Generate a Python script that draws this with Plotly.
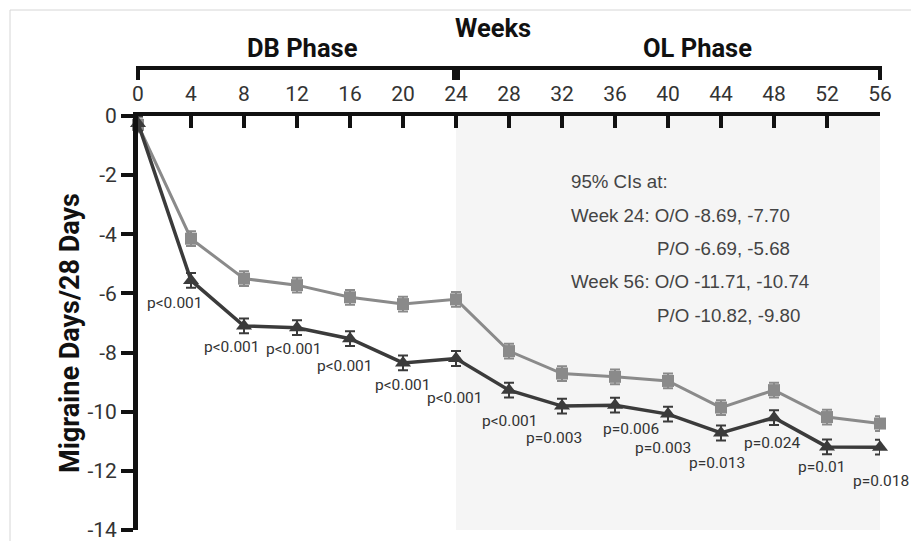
import plotly.graph_objects as go

# Weeks of assessment
weeks = [0, 4, 8, 12, 16, 20, 24, 28, 32, 36, 40, 44, 48, 52, 56]

# Mean change from baseline in migraine days / 28 days
placebo_open = [-0.3, -4.15, -5.5, -5.72, -6.13, -6.36, -6.2, -7.95, -8.71, -8.82,
                -8.96, -9.86, -9.27, -10.18, -10.4]
active_open = [-0.25, -5.56, -7.1, -7.16, -7.53, -8.35, -8.2, -9.27, -9.81, -9.78,
               -10.08, -10.72, -10.2, -11.19, -11.2]
placebo_se = [0.25] * len(weeks)
active_se = [0.25] * len(weeks)

# p-values at each post-baseline visit
p_weeks = [4, 8, 12, 16, 20, 24, 28, 32, 36, 40, 44, 48, 52, 56]
p_labels = ["p<0.001", "p<0.001", "p<0.001", "p<0.001", "p<0.001", "p<0.001",
            "p<0.001", "p=0.003", "p=0.006", "p=0.003", "p=0.013", "p=0.024",
            "p=0.01", "p=0.018"]
# pixel offsets of each p-value label from its marker
p_offsets = [(-16, -23), (-12, -21), (-3, -21), (-5, -27), (0, -22), (-1, -40),
             (1, -31), (-8, -32), (16, -24), (-5, -34), (-4, -30), (-2, -25),
             (-6, -20), (1, -34)]

ci_header = "95% CIs at:"
ci_rows = ["Week 24: O/O -8.69, -7.70", "P/O -6.69, -5.68",
           "Week 56: O/O -11.71, -10.74", "P/O -10.82, -9.80"]

y_ticks = [0, -2, -4, -6, -8, -10, -12, -14]
y_tick_labels = ["0", "-2", "-4", "-6", "-8", "-10", "-12", "-14"]

NARROW = "Roboto, sans-serif"
REGULAR = "Liberation Sans, Arial, sans-serif"
DARK = "#3b3b3b"
LIGHT = "#8a8a8a"

fig = go.Figure()

fig.add_trace(go.Scatter(
    x=weeks, y=placebo_open, mode="lines+markers",
    line=dict(color=LIGHT, width=3),
    marker=dict(symbol="square", size=12, color=LIGHT),
    error_y=dict(type="data", array=placebo_se, color=LIGHT, thickness=2, width=5),
    cliponaxis=False, showlegend=False,
))
fig.add_trace(go.Scatter(
    x=weeks, y=active_open, mode="lines+markers",
    line=dict(color=DARK, width=3.5),
    marker=dict(symbol="triangle-up", size=14, color=DARK),
    error_y=dict(type="data", array=active_se, color=DARK, thickness=2, width=5),
    cliponaxis=False, showlegend=False,
))

# p-value labels below the active arm
y_at = dict(zip(weeks, active_open))
for wk, txt, (dx, dy) in zip(p_weeks, p_labels, p_offsets):
    fig.add_annotation(x=wk, y=y_at[wk], text=txt, showarrow=False,
                       xshift=dx, yshift=dy,
                       font=dict(family=NARROW, size=15.5, color="#333333"))

# confidence interval text block
ci_lines = [(ci_header, 0), (ci_rows[0], 0), (ci_rows[1], 86),
            (ci_rows[2], 0), (ci_rows[3], 86)]
for i, (txt, indent) in enumerate(ci_lines):
    fig.add_annotation(x=32.5, y=-2.22 - i * 1.13, text=txt, showarrow=False,
                       xanchor="left", xshift=indent,
                       font=dict(family=REGULAR, size=18.7, color="#444444"))

# open-label shading
fig.add_shape(type="rect", xref="x", yref="y", x0=24, x1=56, y0=-14, y1=0,
              fillcolor="#f5f5f5", line=dict(width=0), layer="below")

# phase bracket above the week axis
bracket = dict(color="#111111", width=4)
fig.add_shape(type="line", xref="paper", yref="paper", ysizemode="pixel", yanchor=1,
              x0=0, x1=1, y0=48, y1=48, line=bracket)
for xp, w in [(0, 4), (1, 4), (24 / 56, 8)]:
    fig.add_shape(type="line", xref="paper", yref="paper", ysizemode="pixel",
                  yanchor=1, x0=xp, x1=xp, y0=50, y1=36,
                  line=dict(color="#111111", width=w))

# outer frame
fig.add_shape(type="rect", xref="paper", yref="paper", xsizemode="pixel",
              ysizemode="pixel", xanchor=0, yanchor=1, x0=-128, x1=900,
              y0=106, y1=-600, line=dict(color="#d6d6d6", width=1),
              fillcolor="rgba(0,0,0,0)")

head_font = dict(family=NARROW, size=25.5, color="#111111")
for label, xp, dy in [("DB Phase", 12.4 / 56, 68), ("OL Phase", 42.2 / 56, 68),
                      ("Weeks", 26.8 / 56, 88)]:
    fig.add_annotation(xref="paper", yref="paper", x=xp, y=1, yshift=dy,
                       xanchor="center", yanchor="middle",
                       text="<b>" + label + "</b>", showarrow=False, font=head_font)
fig.add_annotation(xref="paper", yref="paper", x=0, y=0.5, xshift=-68, yshift=-10,
                   xanchor="center", yanchor="middle",
                   text="<b>Migraine Days/28 Days</b>", textangle=-90,
                   showarrow=False, font=dict(family=NARROW, size=27, color="#111111"))

fig.update_layout(
    width=911, height=541,
    margin=dict(l=138, r=31, t=116, b=11),
    paper_bgcolor="white", plot_bgcolor="white",
    xaxis=dict(range=[0, 56], side="top", tickmode="array", tickvals=weeks,
               ticks="inside", ticklen=12, tickwidth=4, tickcolor="#111111",
               showline=True, linewidth=4, linecolor="#111111", automargin=False,
               showgrid=False, zeroline=False, ticklabelstandoff=3,
               tickfont=dict(family=NARROW, size=21, color="#333333")),
    yaxis=dict(range=[-14, 0], tickmode="array", tickvals=y_ticks,
               ticktext=y_tick_labels, ticklabeloverflow="allow", automargin=False,
               ticks="outside", ticklen=12, tickwidth=4, tickcolor="#111111",
               showline=True, linewidth=5, linecolor="#111111",
               showgrid=False, zeroline=False,
               tickfont=dict(family=NARROW, size=21, color="#333333")),
)

fig.write_html("out.html")
